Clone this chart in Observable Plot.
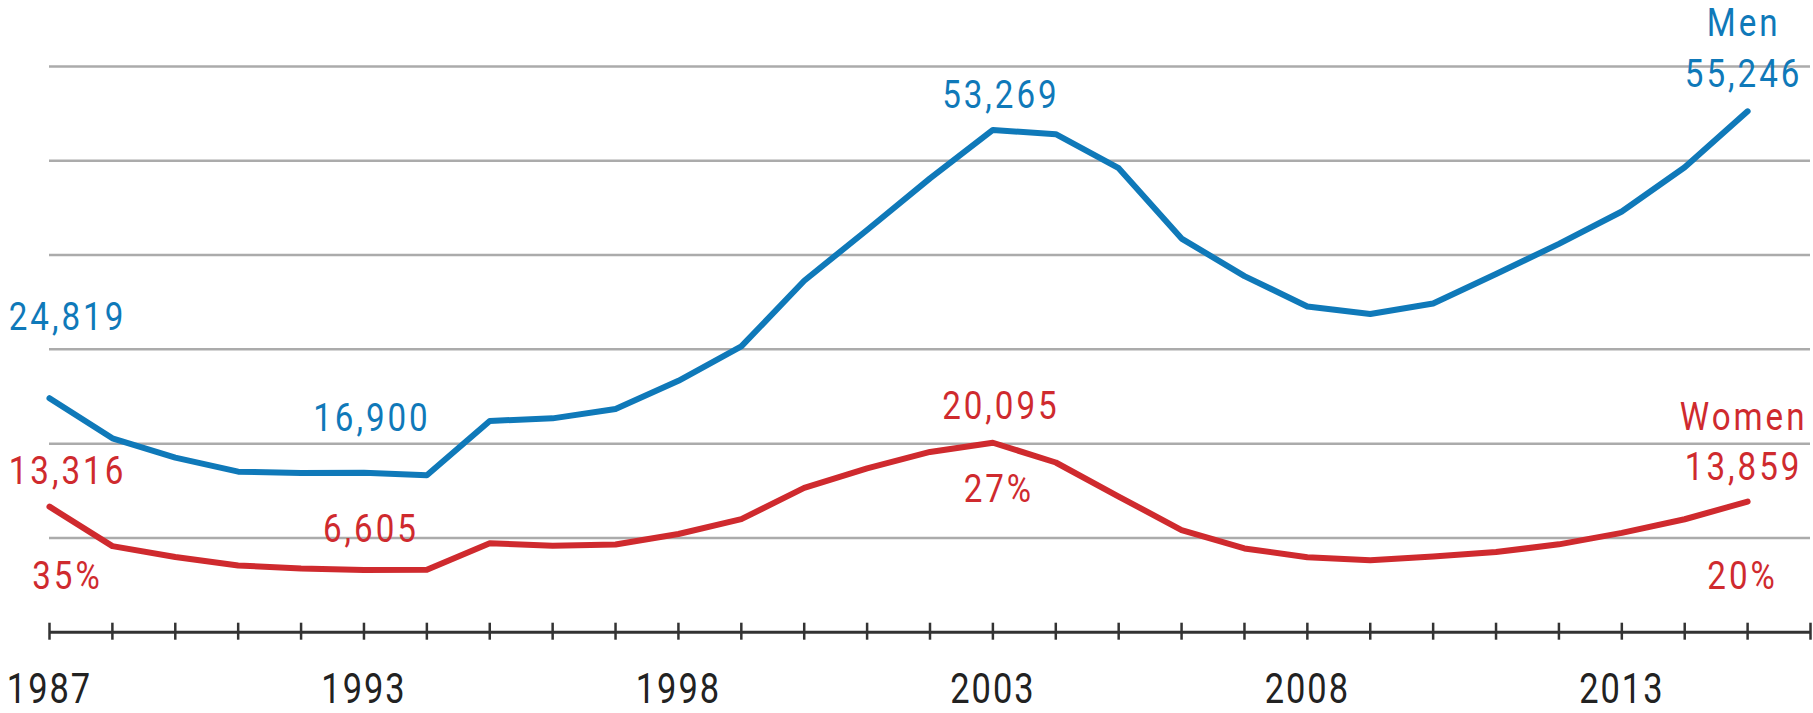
<!DOCTYPE html>
<html>
<head>
<meta charset="utf-8">
<script src="https://cdn.jsdelivr.net/npm/d3@7"></script>
<script src="https://cdn.jsdelivr.net/npm/@observablehq/plot@0.6"></script>
<style>
  html, body { margin: 0; padding: 0; background: #ffffff; }
  #chart { width: 1813px; height: 713px; }
</style>
</head>
<body>
<div id="chart"></div>
<script>
// ---- data ----
const years = [1987, 1989, 1990, 1991, 1992, 1993, 1994, 1995, 1996, 1997, 1998, 1999, 2000, 2001,
  2002, 2003, 2004, 2005, 2006, 2007, 2008, 2009, 2010, 2011, 2012, 2013, 2014, 2015];
const men = [24819, 20570, 18510, 17025, 16886, 16900, 16650, 22410, 22680, 23680, 26660, 30310, 37280, 42660,
  48140, 53269, 52820, 49210, 41750, 37770, 34550, 33750, 34860, 38000, 41190, 44620, 49310, 55246];
const women = [13316, 9130, 7970, 7080, 6760, 6605, 6620, 9440, 9170, 9300, 10420, 11990, 15310, 17380,
  19120, 20095, 18000, 14390, 10830, 8880, 7950, 7630, 8030, 8500, 9320, 10530, 11980, 13859];
const axisYears = [...years, 2016];           // tick marks on the axis
const labelYears = [1987, 1993, 1998, 2003, 2008, 2013]; // labelled ticks
const gridValues = [10000, 20000, 30000, 40000, 50000, 60000];
const seriesNames = ["Men", "Women"];

// ---- build table ----
const rows = years.flatMap((year, i) => [
  {year, value: men[i], series: seriesNames[0]},
  {year, value: women[i], series: seriesNames[1]}
]);
const byYear = (arr, yr) => arr[years.indexOf(yr)];
const fmt = d3.format(",");

const BLUE = "#0f79b9";
const RED = "#cf2a2e";
const FONT = "Roboto, 'Liberation Sans', sans-serif";

function valueLabel(series, yr, dx, dy, text) {
  const arr = series === "Men" ? men : women;
  return Plot.text([{year: yr, value: byYear(arr, yr)}], {
    x: "year", y: "value",
    text: text ?? (d => fmt(d.value)),
    dx, dy,
    fill: series === "Men" ? BLUE : RED,
    fontSize: 39,
    textAnchor: "middle"
  });
}
function pctLabel(yr, dx, dy) {
  const m = byYear(men, yr), w = byYear(women, yr);
  return Plot.text([{year: yr, value: w, pct: Math.round(100 * w / (m + w)) + "%"}], {
    x: "year", y: "value", text: "pct", dx, dy,
    fill: RED, fontSize: 39, textAnchor: "middle"
  });
}

const chart = Plot.plot({
  width: 1813,
  height: 713,
  marginLeft: 49,
  marginRight: 3,
  marginTop: 66,
  marginBottom: 81.3,
  style: {fontFamily: FONT, background: "#ffffff", overflow: "visible"},
  x: {type: "point", domain: axisYears, padding: 0, round: false, axis: null},
  y: {domain: [0, 60000], axis: null},
  marks: [
    Plot.ruleY(gridValues, {stroke: "#ababab", strokeWidth: 2.5}),
    Plot.ruleY([0], {stroke: "#333333", strokeWidth: 3}),
    Plot.ruleX(axisYears, {x: d => d, y1: 0, y2: 0, insetTop: -9, insetBottom: -8, stroke: "#333333", strokeWidth: 2.5}),
    Plot.axisX({ticks: labelYears, tickSize: 0, tickPadding: 40, fontSize: 43, label: null,
      tickFormat: d => String(d), color: "#222222"}),
    Plot.line(rows, {x: "year", y: "value", z: "series",
      stroke: d => d.series === "Men" ? BLUE : RED,
      strokeWidth: 6, strokeLinejoin: "round", strokeLinecap: "round"}),
    valueLabel("Men", 1987, 18, -81),
    valueLabel("Men", 1993, 8, -54),
    valueLabel("Men", 2003, 8, -34),
    valueLabel("Men", 2015, -4, -37),
    valueLabel("Men", 2015, -4, -88, () => seriesNames[0]),
    valueLabel("Women", 1987, 18, -35),
    valueLabel("Women", 1993, 7, -40),
    valueLabel("Women", 2003, 8, -36),
    valueLabel("Women", 2015, -4, -34),
    valueLabel("Women", 2015, -4, -84, () => seriesNames[1]),
    pctLabel(1987, 18, 70),
    pctLabel(2003, 6, 47),
    pctLabel(2015, -5, 75)
  ]
});
document.getElementById("chart").appendChild(chart);

// emulate the condensed, tracked typeface of the original:
// add tracking, then squeeze each label horizontally about its own anchor
d3.select(chart).selectAll("text").each(function () {
  const isTick = !!this.closest("[aria-label='x-axis tick label']");
  this.style.letterSpacing = isTick ? "2.5px" : "3.5px";
  const s = isTick ? 0.8 : 0.85;
  const t = this.getAttribute("transform") || "";
  const x = +this.getAttribute("x") || 0;
  this.setAttribute("transform", `${t} translate(${x},0) scale(${s},1) translate(${-x},0)`.trim());
});
</script>
</body>
</html>
